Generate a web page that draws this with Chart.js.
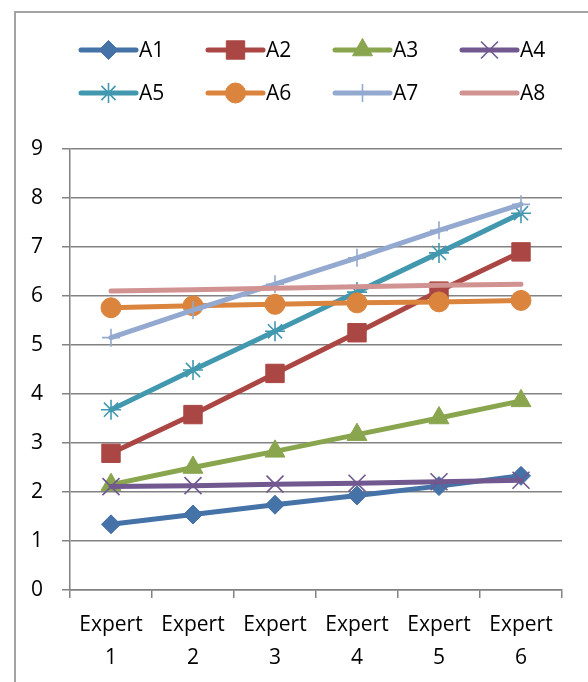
<!DOCTYPE html>
<html>
<head>
<meta charset="utf-8">
<script src="https://cdn.jsdelivr.net/npm/chart.js@4/dist/chart.umd.min.js"></script>
<style>
  html, body { margin: 0; padding: 0; background: #ffffff; }
  body { width: 588px; height: 682px; position: relative; overflow: hidden; }
  #frame { position: absolute; left: 14px; top: 11px; width: 600px; height: 700px;
           border-left: 2px solid #a3a3a3; border-top: 2px solid #a3a3a3; box-sizing: border-box; }
  #chart { position: absolute; left: 0; top: 0; }
</style>
</head>
<body>
<div id="frame"></div>
<canvas id="chart" width="588" height="682"></canvas>
<script>
// Category labels (two lines each)
const categories = [
  ['Expert', '1'], ['Expert', '2'], ['Expert', '3'],
  ['Expert', '4'], ['Expert', '5'], ['Expert', '6']
];

// Series values per expert
const seriesNames = ['A1', 'A2', 'A3', 'A4', 'A5', 'A6', 'A7', 'A8'];
const A1 = [1.34, 1.54, 1.74, 1.93, 2.12, 2.33];
const A2 = [2.79, 3.58, 4.42, 5.25, 6.10, 6.90];
const A3 = [2.15, 2.50, 2.83, 3.17, 3.51, 3.86];
const A4 = [2.11, 2.13, 2.16, 2.18, 2.21, 2.24];
const A5 = [3.68, 4.49, 5.28, 6.08, 6.88, 7.69];
const A6 = [5.76, 5.80, 5.83, 5.86, 5.88, 5.91];
const A7 = [5.15, 5.71, 6.24, 6.78, 7.34, 7.87];
const A8 = [6.10, 6.13, 6.16, 6.19, 6.22, 6.24];

// Y axis tick values
const yTicks = [0, 1, 2, 3, 4, 5, 6, 7, 8, 9];

const FONT = "'Open Sans', 'Noto Sans', sans-serif";
const GRID = '#828282';

const styles = [
  { color: '#4572A7', point: 'rectRot',  radius: 9.5, bw: 1 },
  { color: '#AA4643', point: 'rect',     radius: 13,  bw: 1 },
  { color: '#89A54E', point: 'triangle', radius: 11.5, bw: 1 },
  { color: '#71588F', point: 'crossRot', radius: 12,  bw: 1.6 },
  { color: '#4198AF', point: 'star',     radius: 10,  bw: 1.6 },
  { color: '#DB843D', point: 'circle',   radius: 10,  bw: 1 },
  { color: '#93A9CF', point: 'cross',    radius: 9,   bw: 1.6 },
  { color: '#D19392', point: false,      radius: 0,   bw: 0 }
];

const values = [A1, A2, A3, A4, A5, A6, A7, A8];

const datasets = values.map((data, i) => ({
  label: seriesNames[i],
  data: data,
  borderColor: styles[i].color,
  backgroundColor: styles[i].color,
  pointBackgroundColor: styles[i].color,
  pointBorderColor: styles[i].color,
  pointStyle: styles[i].point,
  pointRadius: styles[i].radius,
  pointBorderWidth: styles[i].bw,
  borderWidth: 5,
  borderCapStyle: 'round',
  tension: 0,
  order: 20 - i
}));

// Two-row legend: line sample with the series marker, then the name
const seriesLegend = {
  id: 'seriesLegend',
  afterDraw(chart) {
    const ctx = chart.ctx;
    ctx.save();
    chart.data.datasets.forEach((ds, i) => {
      const col = i % 4, row = Math.floor(i / 4);
      const x0 = 81 + col * 127;
      const y = row === 0 ? 50 : 93;
      ctx.strokeStyle = ds.borderColor;
      ctx.lineWidth = 5;
      ctx.lineCap = 'round';
      ctx.beginPath();
      ctx.moveTo(x0, y);
      ctx.lineTo(x0 + 55, y);
      ctx.stroke();
      if (ds.pointStyle) {
        ctx.fillStyle = ds.pointBackgroundColor;
        ctx.strokeStyle = ds.pointBorderColor;
        ctx.lineWidth = ds.pointBorderWidth;
        ctx.lineCap = 'butt';
        Chart.helpers.drawPoint(ctx, {
          pointStyle: ds.pointStyle,
          radius: ds.pointRadius,
          rotation: 0,
          borderWidth: ds.pointBorderWidth
        }, x0 + 27.5, y);
      }
      ctx.fillStyle = '#000000';
      ctx.font = '21px ' + FONT;
      ctx.textAlign = 'left';
      ctx.textBaseline = 'middle';
      ctx.fillText(ds.label, x0 + 58, y + 1);
    });
    ctx.restore();
  }
};

new Chart(document.getElementById('chart'), {
  type: 'line',
  data: { labels: categories, datasets: datasets },
  plugins: [seriesLegend],
  options: {
    responsive: false,
    animation: false,
    devicePixelRatio: 1,
    layout: { padding: { top: 149, right: 26, bottom: 0, left: 0 } },
    plugins: { legend: { display: false }, tooltip: { enabled: false } },
    scales: {
      x: {
        offset: true,
        grid: { offset: true, drawOnChartArea: false, drawTicks: true, tickLength: 8,
                color: GRID, lineWidth: 1.5 },
        border: { color: GRID, width: 1.5 },
        ticks: { color: '#000000', padding: 11, maxRotation: 0, autoSkip: false,
                 font: { family: FONT, size: 21, lineHeight: 1.55 } },
        afterFit(scale) { scale.height = 92; }
      },
      y: {
        min: 0, max: 9,
        afterBuildTicks(scale) { scale.ticks = yTicks.map(v => ({ value: v })); },
        grid: { color: GRID, lineWidth: 1.5, tickLength: 8, drawTicks: true },
        border: { color: GRID, width: 1.5 },
        ticks: { color: '#000000', padding: 19,
                 font: { family: FONT, size: 21 } },
        afterFit(scale) { scale.width = 70; }
      }
    }
  }
});
</script>
</body>
</html>
